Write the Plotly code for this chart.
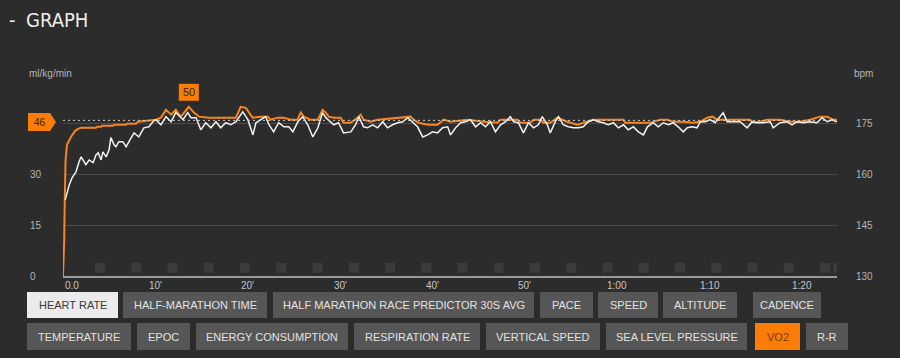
import plotly.graph_objects as go

# ---------------- data ----------------
# elapsed time (min) and VO2 (ml/kg/min)
vo2_t = [0, 0.13, 0.19, 0.28, 0.43, 0.86, 1.30, 1.61, 1.96, 3.57, 3.69, 4.12, 4.24, 5.42, 5.53,
         6.83, 6.91, 7.89, 8.12, 9.50, 10.05, 10.60, 11.15, 11.70, 12.21, 12.75, 13.62, 14.17, 14.72, 15.78,
         18.72, 19.23, 19.78, 20.52, 21.43, 22.17, 22.49, 23.23, 23.90, 24.64, 25.39, 25.74, 26.06, 26.80, 27.59,
         28.10, 28.45, 28.76, 29.31, 30.06, 30.37, 31.12, 31.90, 32.22, 32.53, 33.28, 34.06, 37.63, 37.95, 38.50,
         39.48, 40.54, 41.20, 41.95, 43.79, 45.52, 47.01, 47.36, 49.21, 49.52, 50.58, 50.94, 51.68,
         51.99, 52.74, 53.52, 54.58, 55.68, 56.74, 57.41, 60.67, 60.86, 63.57, 63.88, 64.63, 65.41,
         66.04, 67.14, 68.20, 68.99, 69.73, 70.28, 70.83, 74.36, 74.71, 75.46, 76.21, 77.62, 78.72,
         79.78, 80.88, 81.93, 82.72, 83.35, 83.78]
vo2_val = [0, 10.7, 22.5, 34.3, 38.8, 41.1, 42.9, 43.5, 43.8, 43.8, 44.1, 44.1, 44.4, 44.4, 44.7,
           44.7, 45.0, 45.0, 45.6, 45.9, 46.2, 46.8, 49.1, 47.7, 49.1, 47.1, 50.0, 48.3, 47.1, 46.8,
           46.8, 50.0, 49.7, 46.8, 47.1, 47.1, 46.2, 46.8, 46.8, 46.2, 46.2, 48.3, 47.1, 46.2, 46.2,
           49.1, 48.3, 47.1, 46.8, 46.8, 45.3, 45.3, 46.8, 47.7, 46.2, 45.6, 46.2, 47.1, 46.2, 45.3,
           44.7, 44.7, 46.2, 45.6, 46.2, 45.6, 45.3, 46.2, 46.2, 45.3, 45.3, 46.2, 46.2,
           45.3, 45.3, 46.8, 45.6, 44.7, 45.6, 46.2, 46.2, 45.3, 45.3, 45.6, 46.2, 46.2,
           45.6, 45.6, 45.3, 45.6, 46.8, 47.1, 46.2, 46.2, 45.3, 45.6, 46.2, 46.2, 45.6,
           45.6, 46.2, 47.1, 47.1, 46.2, 46.2]

# elapsed time (min) and heart rate (bpm)
hr_t = [0.24, 0.43, 0.67, 0.98, 1.41, 1.73, 1.96, 2.16, 2.47, 2.83, 3.26, 3.57, 3.81, 4.12, 4.32,
        4.67, 4.99, 5.18, 5.53, 5.73, 6.04, 6.48, 6.83, 7.14, 7.69, 8.20, 8.75, 9.30, 9.73, 10.05,
        10.60, 11.15, 11.70, 12.21, 12.99, 13.50, 13.85, 14.40, 14.91, 15.46, 16.01, 16.56, 17.07, 17.62, 18.17,
        18.72, 19.46, 20.01, 20.56, 20.88, 21.43, 21.94, 22.29, 22.80, 23.35, 23.90, 24.45, 24.88, 25.43, 25.94,
        26.49, 27.04, 27.59, 28.10, 28.45, 28.96, 29.31, 29.82, 30.37, 31.16, 31.67, 32.02, 32.53, 32.96, 33.51,
        34.06, 34.61, 35.12, 35.67, 36.22, 36.77, 37.32, 37.83, 38.38, 38.93, 39.48, 39.99, 40.54, 41.09,
        41.64, 41.95, 42.50, 43.05, 43.56, 44.11, 44.66, 45.21, 45.72, 46.27, 46.81, 47.36, 47.91,
        48.42, 48.78, 49.29, 49.84, 50.39, 50.94, 51.45, 51.88, 52.43, 52.74, 53.29, 53.64, 54.15,
        54.70, 55.25, 55.80, 56.31, 56.86, 57.41, 57.96, 58.47, 59.02, 59.57, 60.12, 60.67, 61.18,
        61.73, 62.28, 62.83, 63.26, 63.88, 64.43, 64.98, 65.53, 66.04, 66.59, 67.14, 67.57, 68.12,
        68.63, 68.99, 69.50, 70.04, 70.59, 71.46, 71.89, 72.56, 73.30, 74.05, 74.60, 75.15, 75.77,
        76.56, 76.87, 77.62, 78.37, 78.91, 79.46, 80.09, 80.88, 81.62, 82.17, 82.72, 83.23, 83.78]
hr_val = [152.5, 154.9, 156.9, 159.0, 160.8, 163.7, 165.2, 164.3, 162.9, 164.3, 163.5, 165.8, 166.4, 164.3, 166.7,
          165.2, 167.3, 170.9, 168.8, 168.2, 169.7, 169.7, 168.2, 169.7, 172.3, 171.1, 173.8, 174.1, 175.6, 176.2,
          174.7, 177.1, 175.6, 178.3, 176.2, 178.3, 176.8, 176.8, 173.2, 175.3, 173.8, 175.6, 173.8, 175.3, 174.7,
          175.6, 178.5, 176.2, 171.7, 175.3, 176.2, 177.1, 174.7, 172.6, 175.3, 174.1, 174.1, 172.6, 175.6, 177.1,
          174.7, 171.1, 173.8, 178.3, 176.8, 175.6, 174.7, 175.3, 172.3, 172.6, 174.7, 177.1, 174.1, 173.8, 174.7,
          173.8, 175.6, 173.8, 174.7, 175.3, 175.6, 176.8, 175.6, 174.1, 171.1, 171.7, 172.6, 172.3, 173.8,
          174.1, 171.7, 173.8, 175.3, 175.6, 176.2, 174.1, 175.3, 174.1, 175.6, 172.6, 174.7, 175.6,
          177.1, 175.6, 175.3, 172.3, 175.3, 173.8, 174.7, 177.1, 174.7, 172.3, 175.6, 177.1, 174.7,
          174.1, 173.8, 173.8, 174.1, 175.6, 176.2, 175.6, 175.3, 174.7, 175.3, 173.8, 174.7, 173.2,
          174.1, 172.6, 171.7, 174.1, 175.3, 174.1, 175.3, 174.7, 175.3, 174.1, 172.6, 173.8, 174.1,
          173.8, 175.6, 175.6, 176.2, 175.3, 178.3, 175.6, 175.6, 175.6, 173.8, 175.6, 175.3, 175.3,
          175.6, 173.8, 175.3, 175.6, 174.7, 175.6, 175.3, 175.6, 175.3, 176.8, 175.6, 176.2, 175.6]

# lap (km split) markers, elapsed time in min
lap_t = [4.00, 7.93, 11.85, 15.78, 19.70, 23.62, 27.55, 31.47, 35.40, 39.32, 43.24, 47.17,
         51.09, 55.02, 58.94, 62.86, 66.79, 70.71, 74.64, 78.56, 82.48, 83.90]

time_tick_vals = [0, 10, 20, 30, 40, 50, 60, 70, 80]
time_tick_text = ["0.0", "10'", "20'", "30'", "40'", "50'", "1:00", "1:10", "1:20"]
x_end = 83.78

vo2_ticks = [0, 15, 30]
hr_ticks = [130, 145, 160, 175]
avg_vo2 = 46
peak_t, peak_vo2 = 13.62, 50

buttons_row1 = ["HEART RATE", "HALF-MARATHON TIME", "HALF MARATHON RACE PREDICTOR 30S AVG",
                "PACE", "SPEED", "ALTITUDE", "CADENCE"]
buttons_row2 = ["TEMPERATURE", "EPOC", "ENERGY CONSUMPTION", "RESPIRATION RATE",
                "VERTICAL SPEED", "SEA LEVEL PRESSURE", "VO2", "R-R"]

# ---------------- layout helpers ----------------
W, H = 900, 358
L, R, T, B = 63, 63, 73, 82
PW, PH = W - L - R, H - T - B


def px(x):
    return (x - L) / PW


def py(y):
    return (H - B - y) / PH


BG = "#2c2c2c"
ORANGE = "#f7861f"
BTN_ORANGE = "#fb7c06"
FONT = "Liberation Sans, Arial, sans-serif"
TITLE_FONT = "Liberation Sans Narrow, DejaVu Sans Condensed, Liberation Sans, sans-serif"

fig = go.Figure()

fig.add_trace(go.Scatter(x=lap_t, y=[2.4] * len(lap_t), mode="markers",
                         marker=dict(symbol="square", size=10, color="#3b3b3b", line=dict(width=0)),
                         hoverinfo="skip", showlegend=False))
fig.add_trace(go.Scatter(x=vo2_t, y=vo2_val, mode="lines",
                         line=dict(color=ORANGE, width=2), showlegend=False))
fig.add_trace(go.Scatter(x=hr_t, y=hr_val, mode="lines", yaxis="y2",
                         line=dict(color="#f2f2f2", width=1.5), showlegend=False))

shapes = []
annotations = []

# average dotted line
shapes.append(dict(type="line", xref="paper", yref="y", x0=0, x1=1, y0=avg_vo2, y1=avg_vo2,
                   line=dict(color="#d0d0d0", width=1, dash="2px,3px"), layer="above"))
# average tag (pentagon)
ya, yb = py(113), py(131)
yc = (ya + yb) / 2
shapes.append(dict(type="path", xref="paper", yref="paper",
                   path=f"M {px(28)},{ya} L {px(50)},{ya} L {px(56)},{yc} L {px(50)},{yb} L {px(28)},{yb} Z",
                   fillcolor=BTN_ORANGE, line=dict(width=0)))
annotations.append(dict(xref="paper", yref="paper", x=px(40), y=yc, text=str(avg_vo2), showarrow=False,
                        font=dict(size=10, color="#3a2008", family=FONT), xanchor="center", yanchor="middle"))
# peak tag
shapes.append(dict(type="rect", xref="x", yref="y", xsizemode="pixel", ysizemode="pixel",
                   xanchor=peak_t, yanchor=peak_vo2, x0=-10, x1=10, y0=6, y1=23,
                   fillcolor=BTN_ORANGE, line=dict(width=0)))
annotations.append(dict(xref="x", yref="y", x=peak_t, y=peak_vo2, yshift=14.5, text=str(peak_vo2),
                        showarrow=False, font=dict(size=11, color="#3a2008", family=FONT),
                        xanchor="center", yanchor="middle"))

# left axis labels
for v in vo2_ticks:
    annotations.append(dict(xref="paper", yref="y", x=px(28), y=v, text=str(v), showarrow=False,
                            xanchor="left", yanchor="middle", font=dict(size=10, color="#b4b4b4", family=FONT)))
annotations.append(dict(xref="paper", yref="y", x=px(27), y=60, text="ml/kg/min", showarrow=False,
                        xanchor="left", yanchor="middle", bgcolor=BG, borderpad=1,
                        font=dict(size=10, color="#b4b4b4", family=FONT)))
# right axis labels
for v in hr_ticks:
    annotations.append(dict(xref="paper", yref="y2", x=px(854), y=v, text=str(v), showarrow=False,
                            xanchor="left", yanchor="middle", font=dict(size=10, color="#b4b4b4", family=FONT)))
annotations.append(dict(xref="paper", yref="y2", x=px(852), y=190, text="bpm", showarrow=False,
                        xanchor="left", yanchor="middle", font=dict(size=10, color="#b4b4b4", family=FONT)))
# time labels
for k, t in zip(time_tick_vals, time_tick_text):
    annotations.append(dict(xref="x", yref="paper", x=k, y=py(285), text=t, showarrow=False,
                            xanchor="left" if k == 0 else "center", yanchor="middle",
                            font=dict(size=10, color="#c4c4c4", family=FONT)))

# title
annotations.append(dict(xref="paper", yref="paper", x=px(7), y=py(20), text="-", showarrow=False,
                        xanchor="left", yanchor="middle", font=dict(size=20, color="#eeeeee", family=TITLE_FONT)))
annotations.append(dict(xref="paper", yref="paper", x=px(24), y=py(20), text="GRAPH", showarrow=False,
                        xanchor="left", yanchor="middle", font=dict(size=20, color="#eeeeee", family=TITLE_FONT)))

# buttons
row1_edges = [(27, 118), (123, 267), (273, 534), (540, 593), (598, 658), (663, 737), (753, 821)]
row2_edges = [(27, 131), (137, 190), (196, 348), (354, 480), (486, 600), (606, 747), (755, 800), (806, 848)]
for labels, edges, (y0, y1) in [(buttons_row1, row1_edges, (292, 318)), (buttons_row2, row2_edges, (323, 350))]:
    for lab, (x0, x1) in zip(labels, edges):
        if lab == "HEART RATE":
            fill, fc = "#ebebeb", "#3a3a3a"
        elif lab == "VO2":
            fill, fc = BTN_ORANGE, "#7a3a06"
        else:
            fill, fc = "#565656", "#e2e2e2"
        shapes.append(dict(type="rect", xref="paper", yref="paper", x0=px(x0), x1=px(x1),
                           y0=py(y1), y1=py(y0), fillcolor=fill, line=dict(width=0)))
        annotations.append(dict(xref="paper", yref="paper", x=px((x0 + x1) / 2), y=py((y0 + y1) / 2),
                                text=lab, showarrow=False, xanchor="center", yanchor="middle",
                                font=dict(size=11, color=fc, family=FONT)))

fig.update_layout(
    width=W, height=H,
    margin=dict(l=L, r=R, t=T, b=B, pad=0),
    paper_bgcolor=BG, plot_bgcolor=BG,
    font=dict(family=FONT, color="#cccccc"),
    showlegend=False,
    hovermode=False,
    xaxis=dict(range=[0, x_end], showgrid=False, zeroline=False, showline=True,
               linecolor="#9a9a9a", linewidth=2, showticklabels=False, ticks="", fixedrange=True),
    yaxis=dict(range=[0, 60], tickvals=[15, 30, 45, 60], showgrid=True, gridcolor="#4a4a4a",
               gridwidth=1, zeroline=False, showline=False, showticklabels=False, ticks=""),
    yaxis2=dict(range=[130, 190], overlaying="y", side="right", showgrid=False, zeroline=False,
                showline=False, showticklabels=False, ticks=""),
    shapes=shapes,
    annotations=annotations,
)

fig.write_html("out.html", config={"displayModeBar": False},
               post_script="document.body.style.margin='0px';document.body.style.overflow='hidden';")
